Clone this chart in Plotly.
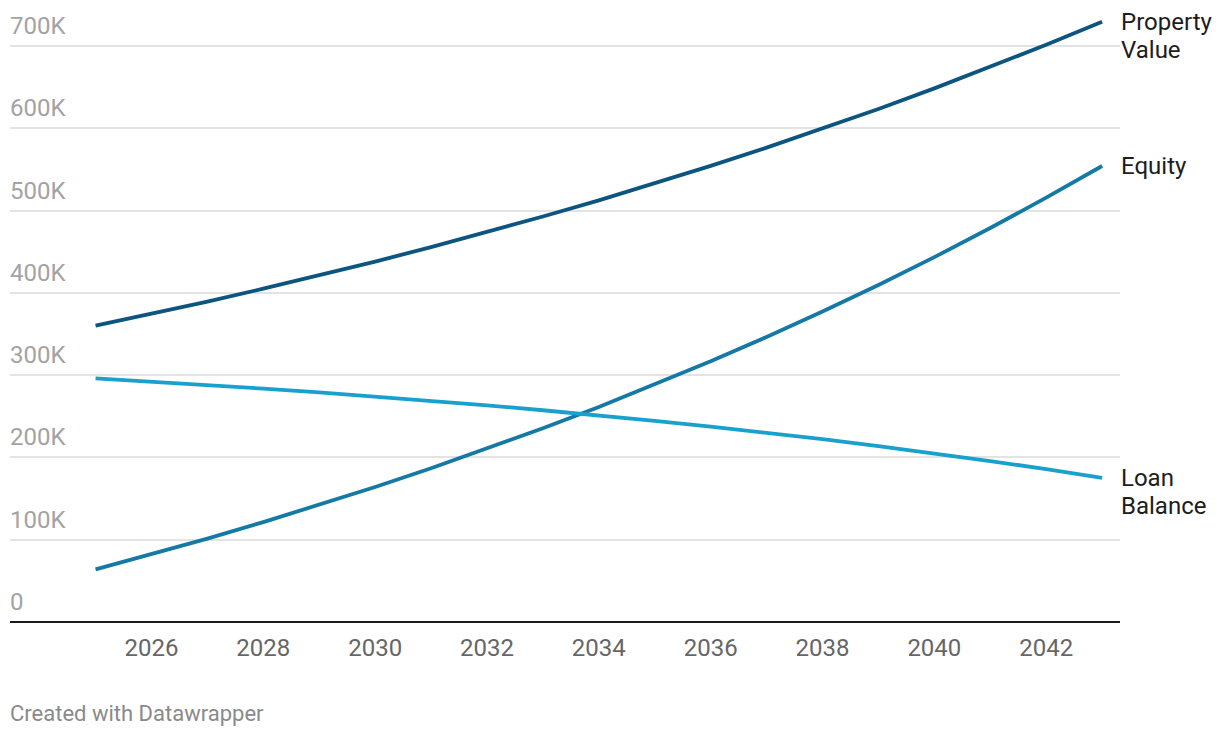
import plotly.graph_objects as go

years = list(range(2025, 2044))
property_value = [360.0, 374.4, 389.4, 405.0, 421.1, 438.0, 455.5, 473.7, 492.7, 512.4,
                  532.9, 554.2, 576.4, 599.4, 623.4, 648.4, 674.3, 701.3, 729.3]
loan_balance = [296.0, 292.1, 288.0, 283.6, 278.9, 274.0, 268.7, 263.2, 257.3, 251.1,
                244.5, 237.5, 230.0, 222.2, 213.8, 205.0, 195.6, 185.7, 175.2]
equity = [64.0, 82.3, 101.4, 121.4, 142.2, 164.0, 186.8, 210.5, 235.4, 261.3,
          288.4, 316.7, 346.4, 377.2, 409.6, 443.4, 478.7, 515.6, 554.1]

series_names = [["Property", "Value"], ["Equity"], ["Loan", "Balance"]]
series_values = [property_value, equity, loan_balance]
series_colors = ["#0c5581", "#1479a4", "#18a1cd"]

y_ticks = [0, 100, 200, 300, 400, 500, 600, 700]
y_tick_labels = ["0", "100K", "200K", "300K", "400K", "500K", "600K", "700K"]
x_ticks = [2026, 2028, 2030, 2032, 2034, 2036, 2038, 2040, 2042]

FONT = "Roboto, 'Noto Sans', sans-serif"

fig = go.Figure()
for name_lines, vals, col in zip(series_names, series_values, series_colors):
    fig.add_trace(go.Scatter(x=years, y=[v * 1000 for v in vals], mode="lines",
                             line=dict(color=col, width=3.8), hoverinfo="skip",
                             showlegend=False))
    for i, line_text in enumerate(name_lines):
        fig.add_annotation(x=years[-1], y=vals[-1] * 1000, xref="x", yref="y",
                           text=line_text, showarrow=False, xanchor="left",
                           yanchor="middle", yshift=-28 * i, xshift=17, align="left",
                           font=dict(family=FONT, size=24, color="#1d1d1d"))

for v, t in zip(y_ticks, y_tick_labels):
    fig.add_annotation(x=0, xref="paper", y=v * 1000, yref="y", text=t,
                       showarrow=False, xanchor="left", yanchor="bottom",
                       yshift=4, xshift=-2,
                       font=dict(family=FONT, size=24, color="#a3a3a3"))

fig.add_annotation(x=0, xref="paper", y=-0.151, yref="paper",
                   text="Created with Datawrapper", showarrow=False,
                   xanchor="left", yanchor="middle", xshift=-2,
                   font=dict(family=FONT, size=22, color="#8a8a8a"))

fig.update_layout(
    width=1220, height=738,
    margin=dict(l=2, r=108, t=5, b=124),
    paper_bgcolor="white", plot_bgcolor="white",
    hovermode=False,
    xaxis=dict(range=[2023.47, 2043.32], tickvals=x_ticks,
               ticktext=[str(x) for x in x_ticks], showgrid=False,
               zeroline=False, showline=False, ticks="",
               tickfont=dict(family=FONT, size=24, color="#666666"),
               ticklabelstandoff=9),
    yaxis=dict(range=[0, 740000], tickvals=[v * 1000 for v in y_ticks],
               showticklabels=False, showgrid=True, gridcolor="#e3e3e3",
               gridwidth=1.5, zeroline=True, zerolinecolor="#1a1a1a",
               zerolinewidth=2, showline=False),
)

fig.write_html("out.html")
